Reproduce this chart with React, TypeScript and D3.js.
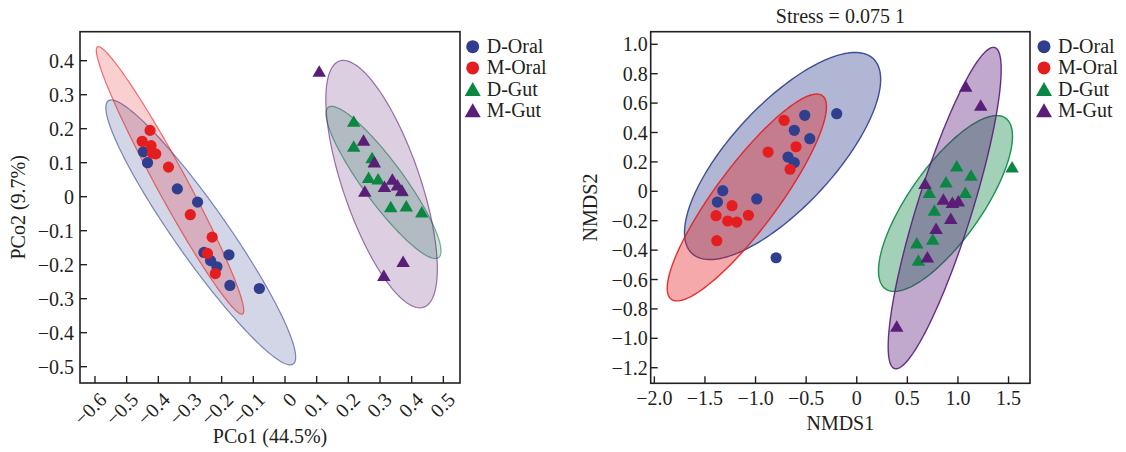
import React from "react";
import * as d3 from "d3";

type Pt = [number, number];

// ---------- data ----------
const groups = ["D-Oral", "M-Oral", "D-Gut", "M-Gut"];
const groupColors = ["#2f3e8e", "#e41d1f", "#0b8744", "#5a1d78"];
const groupShapes = ["circle", "circle", "triangle", "triangle"];

// PCoA (left)
const pcoaDOral: Pt[] = [[-0.447, 0.132], [-0.434, 0.1], [-0.34, 0.023], [-0.276, -0.016], [-0.256, -0.164], [-0.235, -0.188], [-0.215, -0.206], [-0.177, -0.171], [-0.174, -0.261], [-0.081, -0.27]];
const pcoaMOral: Pt[] = [[-0.426, 0.195], [-0.451, 0.163], [-0.423, 0.15], [-0.419, 0.128], [-0.408, 0.126], [-0.368, 0.087], [-0.299, -0.053], [-0.23, -0.119], [-0.245, -0.167], [-0.22, -0.226]];
const pcoaDGut: Pt[] = [[0.217, 0.223], [0.217, 0.149], [0.275, 0.115], [0.264, 0.057], [0.294, 0.053], [0.334, -0.029], [0.383, -0.027], [0.432, -0.044], [0.369, 0.018]];
const pcoaMGut: Pt[] = [[0.108, 0.37], [0.248, 0.167], [0.282, 0.103], [0.252, 0.017], [0.314, 0.031], [0.339, 0.052], [0.355, 0.035], [0.369, 0.02], [0.373, -0.19], [0.312, -0.231]];
// ellipse: centre x, centre y, semi-major axis vector x, y, minor/major ratio
const pcoaEllipses: number[][] = [
  [-0.266, -0.105, 0.292, -0.387, 0.163],
  [-0.363, 0.048, 0.229, -0.393, 0.1],
  [0.311, 0.042, 0.174, -0.221, 0.219],
  [0.305, 0.037, 0.133, -0.362, 0.297],
];
const pcoaXTicks = [-0.6, -0.5, -0.4, -0.3, -0.2, -0.1, 0, 0.1, 0.2, 0.3, 0.4, 0.5];
const pcoaYTicks = [-0.5, -0.4, -0.3, -0.2, -0.1, 0, 0.1, 0.2, 0.3, 0.4];

// NMDS (right)
const nmdsDOral: Pt[] = [[-1.324, 0.004], [-1.377, -0.073], [-0.988, -0.052], [-0.679, 0.233], [-0.617, 0.195], [-0.617, 0.415], [-0.514, 0.517], [-0.464, 0.358], [-0.198, 0.528], [-0.797, -0.452]];
const nmdsMOral: Pt[] = [[-0.718, 0.483], [-0.876, 0.267], [-0.6, 0.303], [-0.659, 0.15], [-1.232, -0.098], [-1.39, -0.166], [-1.275, -0.202], [-1.186, -0.209], [-1.071, -0.163], [-1.383, -0.336]];
const nmdsDGut: Pt[] = [[1.535, 0.167], [0.988, 0.174], [1.129, 0.111], [0.882, 0.065], [1.073, -0.007], [0.717, -0.007], [0.767, -0.127], [0.593, -0.35], [0.751, -0.324], [0.609, -0.467]];
const nmdsMGut: Pt[] = [[1.077, 0.716], [1.225, 0.587], [0.675, 0.054], [0.856, -0.052], [0.945, -0.075], [1.004, -0.064], [0.929, -0.184], [0.784, -0.252], [0.698, -0.445], [0.395, -0.916]];
const nmdsEllipses: number[][] = [
  [-0.733, 0.24, 0.895, 0.663, 0.386],
  [-1.086, -0.042, 0.747, 0.692, 0.246],
  [0.877, -0.083, 0.593, 0.581, 0.349],
  [0.869, -0.114, 0.495, 1.092, 0.163],
];
const nmdsXTicks = [-2.0, -1.5, -1.0, -0.5, 0, 0.5, 1.0, 1.5];
const nmdsYTicks = [-1.2, -1.0, -0.8, -0.6, -0.4, -0.2, 0, 0.2, 0.4, 0.6, 0.8, 1.0];
const nmdsStress = "Stress = 0.075 1";

// ---------- rendering ----------
const FONT = "'Liberation Serif', 'DejaVu Serif', serif";
const AXIS = "#231f20";
const fmt = (v: number) => (Math.abs(v) < 1e-9 ? "0" : d3.format(".1f")(v));

function triPath(w: number, h: number) {
  return `M0,${-h / 2}L${w / 2},${h / 2}L${-w / 2},${h / 2}Z`;
}

function Marker({ shape, color, x, y, big }: { shape: string; color: string; x: number; y: number; big?: boolean }) {
  if (shape === "circle") return <circle cx={x} cy={y} r={big ? 6.5 : 5.6} fill={color} />;
  return <path d={big ? triPath(16, 14) : triPath(13.5, 11.5)} transform={`translate(${x},${y})`} fill={color} />;
}

interface PanelProps {
  x0: number; x1: number; y0: number; y1: number;
  xDomain: [number, number]; yDomain: [number, number];
  xTicks: number[]; yTicks: number[];
  series: Pt[][]; ellipses: number[][];
  fillOpacity: number; strokeOpacity: number; strokeWidth: number;
  xLabel: string; yLabel: string; yLabelX: number; xLabelY: number;
  rotateX: boolean; yLabelGap: number;
  title?: string;
  legendX: number;
}

function Panel(p: PanelProps) {
  const xs = d3.scaleLinear().domain(p.xDomain).range([p.x0, p.x1]);
  const ys = d3.scaleLinear().domain(p.yDomain).range([p.y1, p.y0]);
  const line = d3.line<[number, number]>().curve(d3.curveLinearClosed);
  const ellipsePath = (e: number[]) => {
    const [cx, cy, ax, ay, ratio] = e;
    const C = [xs(cx), ys(cy)];
    const A = [xs(cx + ax) - C[0], ys(cy + ay) - C[1]];
    const B = [-A[1] * ratio, A[0] * ratio];
    const pts: [number, number][] = d3.range(0, 360, 2).map((deg) => {
      const t = (deg * Math.PI) / 180;
      return [C[0] + A[0] * Math.cos(t) + B[0] * Math.sin(t), C[1] + A[1] * Math.cos(t) + B[1] * Math.sin(t)];
    });
    return line(pts) || "";
  };
  const tickLen = 7;
  const cxMid = (p.x0 + p.x1) / 2;
  const cyMid = (p.y0 + p.y1) / 2;
  return (
    <g fontFamily={FONT} fill={AXIS}>
      {p.ellipses.map((e, i) => (
        <path key={"e" + i} d={ellipsePath(e)} fill={groupColors[i]} fillOpacity={p.fillOpacity}
          stroke={groupColors[i]} strokeOpacity={p.strokeOpacity} strokeWidth={p.strokeWidth} />
      ))}
      {p.series.map((s, i) =>
        s.map((d, j) => (
          <Marker key={`p${i}-${j}`} shape={groupShapes[i]} color={groupColors[i]} x={xs(d[0])} y={ys(d[1])} />
        ))
      )}
      <rect x={p.x0} y={p.y0} width={p.x1 - p.x0} height={p.y1 - p.y0} fill="none" stroke={AXIS} strokeWidth={1.6} />
      {p.xTicks.map((t) => (
        <g key={"xt" + t}>
          <line x1={xs(t)} x2={xs(t)} y1={p.y1} y2={p.y1 - tickLen} stroke={AXIS} strokeWidth={1.4} />
          {p.rotateX ? (
            <text transform={`translate(${xs(t) + 8},${p.y1 + 13}) rotate(-45)`} textAnchor="end" dy="0.35em" fontSize={20}>
              {fmt(t)}
            </text>
          ) : (
            <text x={xs(t)} y={p.y1 + 22} textAnchor="middle" fontSize={20}>{fmt(t)}</text>
          )}
        </g>
      ))}
      {p.yTicks.map((t) => (
        <g key={"yt" + t}>
          <line x1={p.x0} x2={p.x0 + tickLen} y1={ys(t)} y2={ys(t)} stroke={AXIS} strokeWidth={1.4} />
          <text x={p.x0 - p.yLabelGap} y={ys(t)} dy="0.35em" textAnchor="end" fontSize={20}>{fmt(t)}</text>
        </g>
      ))}
      <text x={cxMid} y={p.xLabelY} textAnchor="middle" fontSize={20}>{p.xLabel}</text>
      <text transform={`translate(${p.yLabelX},${cyMid}) rotate(-90)`} textAnchor="middle" fontSize={20}>{p.yLabel}</text>
      {p.title && <text x={cxMid} y={23} textAnchor="middle" fontSize={20}>{p.title}</text>}
      {groups.map((g, i) => (
        <g key={"lg" + i}>
          <Marker shape={groupShapes[i]} color={groupColors[i]} x={p.legendX} y={46.7 + i * 21.2} big />
          <text x={p.legendX + 14} y={46.7 + i * 21.2 + 6.5} fontSize={20}>{g}</text>
        </g>
      ))}
    </g>
  );
}

export default function App() {
  return (
    <svg width={1126} height={452} style={{ position: "absolute", left: 0, top: 0, background: "#fff" }}>
      <Panel
        x0={80} x1={460} y0={31.7} y1={383}
        xDomain={[-0.6473, 0.5526]} yDomain={[-0.548, 0.4853]}
        xTicks={pcoaXTicks} yTicks={pcoaYTicks}
        series={[pcoaDOral, pcoaMOral, pcoaDGut, pcoaMGut]} ellipses={pcoaEllipses}
        fillOpacity={0.21} strokeOpacity={0.6} strokeWidth={1.2}
        xLabel="PCo1 (44.5%)" yLabel="PCo2 (9.7%)" yLabelX={25} xLabelY={443}
        rotateX={true} yLabelGap={6}
        legendX={472.7}
      />
      <Panel
        x0={650.7} x1={1030} y0={31.7} y1={383.3}
        xDomain={[-2.036, 1.712]} yDomain={[-1.306, 1.0857]}
        xTicks={nmdsXTicks} yTicks={nmdsYTicks}
        series={[nmdsDOral, nmdsMOral, nmdsDGut, nmdsMGut]} ellipses={nmdsEllipses}
        fillOpacity={0.38} strokeOpacity={0.9} strokeWidth={1.4}
        xLabel="NMDS1" yLabel="NMDS2" yLabelX={597} xLabelY={430}
        rotateX={false} yLabelGap={3}
        title={nmdsStress}
        legendX={1044}
      />
    </svg>
  );
}
